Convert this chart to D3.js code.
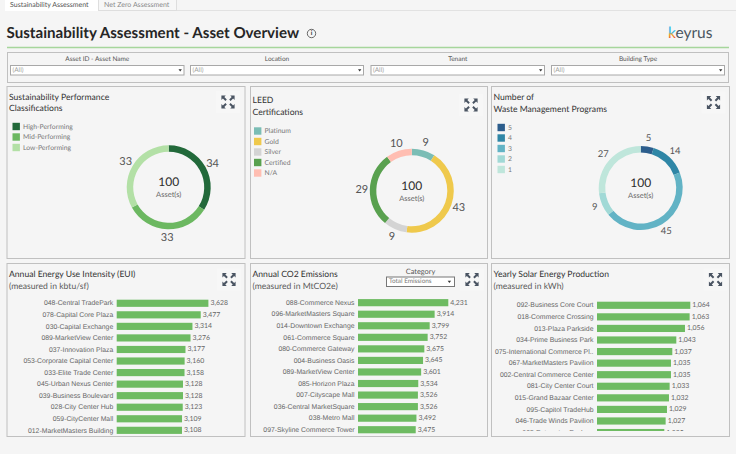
<!DOCTYPE html>
<html>
<head>
<meta charset="utf-8">
<script src="https://cdn.jsdelivr.net/npm/d3@7/dist/d3.min.js"></script>
<style>
  html, body { margin: 0; padding: 0; background: #f5f5f5; }
  svg { display: block; font-family: "Lato", sans-serif; text-rendering: geometricPrecision; }
</style>
</head>
<body>
<svg id="dash" width="736" height="454"></svg>
<script>
// ---- Data ----
const perfCategories = ["High-Performing", "Mid-Performing", "Low-Performing"];
const perfValues = [34, 33, 33];
const perfColors = ["#22693a", "#6cb861", "#b3e0a6"];

const leedCategories = ["Platinum", "Gold", "Silver", "Certified", "N/A"];
const leedValues = [9, 43, 9, 29, 10];
const leedColors = ["#7bbdb5", "#efc94c", "#d4d4d4", "#59a14f", "#ffbeb2"];

const wasteCategories = ["5", "4", "3", "2", "1"];
const wasteValues = [5, 14, 45, 9, 27];
const wasteColors = ["#2c5d8c", "#2f86a6", "#62b3c5", "#a1d9d6", "#bfe6db"];

const euiNames = ["048-Central TradePark", "078-Capital Core Plaza", "030-Capital Exchange", "089-MarketView Center", "037-Innovation Plaza", "053-Corporate Capital Center", "033-Elite Trade Center", "045-Urban Nexus Center", "039-Business Boulevard", "028-City Center Hub", "059-CityCenter Mall", "012-MarketMasters Building"];
const euiValues = [3628, 3477, 3314, 3276, 3177, 3160, 3158, 3128, 3128, 3123, 3109, 3108];

const co2Names = ["088-Commerce Nexus", "096-MarketMasters Square", "014-Downtown Exchange", "061-Commerce Square", "080-Commerce Gateway", "004-Business Oasis", "089-MarketView Center", "085-Horizon Plaza", "007-Cityscape Mall", "036-Central MarketSquare", "038-Metro Mall", "097-Skyline Commerce Tower"];
const co2Values = [4231, 3914, 3799, 3752, 3675, 3645, 3601, 3534, 3526, 3526, 3492, 3475];

const solarNames = ["092-Business Core Court", "018-Commerce Crossing", "013-Plaza Parkside", "034-Prime Business Park", "075-International Commerce Pl..", "067-MarketMasters Pavilion", "002-Central Commerce Center", "081-City Center Court", "015-Grand Bazaar Center", "095-Capitol TradeHub", "046-Trade Winds Pavilion", "025-Enterprise Enclave"];
const solarValues = [1064, 1063, 1056, 1043, 1037, 1035, 1035, 1033, 1032, 1029, 1027, 1025];

const filterLabels = ["Asset ID - Asset Name", "Location", "Tenant", "Building Type"];

// ---- Shared styles ----
const BAR = "#6ebb62", FRAME = "#c0c0c0";
const svg = d3.select("#dash");
const defs = svg.append("defs");

function text(g, x, y, str, size, fill, opts = {}) {
  return g.append("text").attr("x", x).attr("y", y).text(str)
    .attr("font-size", size).attr("fill", fill)
    .attr("text-anchor", opts.anchor || "start")
    .attr("font-weight", opts.weight || 400)
    .attr("dominant-baseline", "central");
}

// ---- Tab strip ----
const tabs = svg.append("g");
tabs.append("rect").attr("x", 5).attr("y", 0).attr("width", 93).attr("height", 11).attr("fill", "#ffffff");
tabs.append("rect").attr("x", 98.5).attr("y", -1).attr("width", 78).attr("height", 11.5).attr("fill", "#f7f7f7").attr("stroke", "#dedede");
tabs.append("line").attr("x1", 177).attr("x2", 736).attr("y1", 10.5).attr("y2", 10.5).attr("stroke", "#e2e2e2");
text(tabs, 10, 5, "Sustainability Assessment", 7, "#555555");
text(tabs, 104, 5, "Net Zero Assessment", 7, "#8a8a8a");

// ---- Header ----
const head = svg.append("g");
text(head, 6.5, 33, "Sustainability Assessment - Asset Overview", 15.15, "#262626", { weight: 700 });
head.append("circle").attr("cx", 311.5).attr("cy", 33.5).attr("r", 4.2).attr("fill", "none").attr("stroke", "#444").attr("stroke-width", 0.8);
text(head, 311.5, 33.5, "i", 6.5, "#333", { anchor: "middle", weight: 700 });
head.append("line").attr("x1", 7).attr("x2", 729).attr("y1", 47.5).attr("y2", 47.5).attr("stroke", "#a6d69c").attr("stroke-width", 1.4);

// Brand mark: the first letter carries a multi-colour gradient
const brand = defs.append("linearGradient").attr("id", "brandK").attr("x1", 0).attr("x2", 0).attr("y1", 0).attr("y2", 1);
brand.append("stop").attr("offset", "0.45").attr("stop-color", "#33b5e5");
brand.append("stop").attr("offset", "0.6").attr("stop-color", "#f6a01a");
brand.append("stop").attr("offset", "0.85").attr("stop-color", "#e8344a");
const logo = text(head, 668, 33, "", 15.5, "#4a5560");
logo.append("tspan").attr("fill", "url(#brandK)").text("k");
logo.append("tspan").text("eyrus");

// ---- Filter bar ----
const filterXs = [[10, 184.5], [190, 364], [370.5, 545], [551, 725]];
const filters = svg.append("g");
filters.append("rect").attr("x", 7.5).attr("y", 52.5).attr("width", 721).attr("height", 30).attr("fill", "none").attr("stroke", FRAME);
filterLabels.forEach((label, i) => {
  const [x0, x1] = filterXs[i];
  text(filters, (x0 + x1) / 2, 59.8, label, 6.5, "#555555", { anchor: "middle" });
  filters.append("rect").attr("x", x0 + 0.5).attr("y", 65.5).attr("width", x1 - x0 - 1).attr("height", 9.5).attr("fill", "#fff").attr("stroke", "#a8a8a8");
  text(filters, x0 + 2.5, 70.3, "(All)", 6.5, "#a0a0a0");
  filters.append("path").attr("d", `M${x1 - 6},69.2h3.4l-1.7,2.2z`).attr("fill", "#333");
});

// ---- Panel scaffolding ----
function expandIcon(g, cx, cy) {
  // Four corner arrows pointing outwards
  const s = g.append("g").attr("transform", `translate(${cx},${cy})`).attr("fill", "#4b5563");
  [[-1, -1], [1, -1], [-1, 1], [1, 1]].forEach(([sx, sy]) => {
    s.append("path").attr("transform", `scale(${sx},${sy})`)
      .attr("d", "M6.6,6.4 L2.2,6.4 L3.7,4.9 L1.2,2.4 L2.6,1 L5.1,3.5 L6.6,2 Z");
  });
}

function panel(x, y, w, h, title, iconX, iconY) {
  const g = svg.append("g");
  g.append("rect").attr("x", x + 0.5).attr("y", y + 0.5).attr("width", w).attr("height", h)
    .attr("fill", "#f5f5f5").attr("stroke", FRAME);
  g.append("rect").attr("x", iconX - 12).attr("y", iconY - 11).attr("width", 24).attr("height", 22).attr("fill", "#f7f7f7");
  title.forEach(line => {
    text(g, x + line.dx, y + line.dy, line.t, line.size || 8.6, line.c || "#333333", { weight: line.w || 400 });
  });
  expandIcon(g, iconX, iconY);
  return g;
}

// ---- Donut panels ----
function donut(g, cx, cy, cats, vals, colors, legendX, legendY, labelSize) {
  const pie = d3.pie().sort(null).value(d => d);
  const ring = d3.arc().innerRadius(35.5).outerRadius(42);
  const labelArc = d3.arc().innerRadius(50).outerRadius(50);
  const chart = g.append("g").attr("transform", `translate(${cx},${cy})`);
  const arcs = pie(vals);
  chart.selectAll("path").data(arcs).join("path").attr("d", ring).attr("fill", (d, i) => colors[i]);
  chart.selectAll("text.v").data(arcs).join("text").attr("class", "v")
    .attr("transform", d => `translate(${labelArc.centroid(d)})`)
    .attr("text-anchor", "middle").attr("dominant-baseline", "central")
    .attr("font-size", labelSize).attr("fill", "#555555").text(d => d.data);
  text(chart, 0, -5.5, d3.sum(vals), 12, "#2b2b2b", { anchor: "middle" });
  text(chart, 0, 7.5, "Asset(s)", 7.5, "#666666", { anchor: "middle" });

  const legend = g.append("g");
  cats.forEach((c, i) => {
    const y = legendY + i * 10.5;
    legend.append("rect").attr("x", legendX).attr("y", y - 3.7).attr("width", 7.4).attr("height", 7.4).attr("fill", colors[i]);
    text(legend, legendX + 10.5, y, c, 6.8, "#777777");
  });
}

const p1 = panel(6.5, 86, 238, 172, [
  { t: "Sustainability Performance", dx: 2.5, dy: 10.5 },
  { t: "Classifications", dx: 2.5, dy: 22 }
], 228, 102);
donut(p1, 168.7, 187.3, perfCategories, perfValues, perfColors, 12.5, 126.5, 11);

const p2 = panel(250, 86, 237, 172, [
  { t: "LEED", dx: 2.5, dy: 14 },
  { t: "Certifications", dx: 2.5, dy: 25.5 }
], 471, 105);
donut(p2, 411.8, 190.7, leedCategories, leedValues, leedColors, 254, 131, 11);

const p3 = panel(491, 86, 238, 172, [
  { t: "Number of", dx: 2.5, dy: 11 },
  { t: "Waste Management Programs", dx: 2.5, dy: 23 }
], 713.5, 102.5);
donut(p3, 640.7, 188, wasteCategories, wasteValues, wasteColors, 497.5, 127.5, 9.5);

// ---- Ranked bar panels ----
function bars(g, id, names, vals, opts) {
  // Rows share a band scale; the value axis is truncated as in the source workbook view
  const y = d3.scaleBand().domain(names)
    .range([opts.top, opts.top + opts.step * names.length]).paddingInner(0.38).paddingOuter(0.19);
  const x = d3.scaleLinear().domain(opts.domain).range([opts.left, opts.left + opts.span]);

  defs.append("clipPath").attr("id", id).append("rect")
    .attr("x", opts.clip[0]).attr("y", opts.clip[1]).attr("width", opts.clip[2]).attr("height", opts.clip[3]);
  const plot = g.append("g").attr("clip-path", `url(#${id})`);

  plot.selectAll("rect").data(vals).join("rect")
    .attr("x", x(opts.domain[0])).attr("y", (d, i) => y(names[i]))
    .attr("width", d => x(d) - x(opts.domain[0])).attr("height", y.bandwidth()).attr("fill", BAR);

  plot.selectAll("text.v").data(vals).join("text").attr("class", "v")
    .attr("x", d => x(d) + 2).attr("y", (d, i) => y(names[i]) + y.bandwidth() / 2)
    .attr("dominant-baseline", "central").attr("font-size", 6.9).attr("fill", "#666666")
    .text(d3.format(","));

  const axis = plot.append("g").attr("transform", `translate(${opts.left - 3.5},0)`)
    .call(d3.axisLeft(y).tickSize(0).tickPadding(0));
  axis.select(".domain").remove();
  axis.selectAll("text").attr("font-size", 6.85).attr("fill", "#666666").attr("font-family", "inherit");
}

const p4 = panel(6.5, 263, 238, 173, [
  { t: "Annual Energy Use Intensity (EUI)", dx: 2.5, dy: 11 },
  { t: "(measured in kbtu/sf)", dx: 2.5, dy: 23, c: "#5a5a5a" }
], 229, 279.5);
bars(p4, "clipEui", euiNames, euiValues, {
  left: 116.7, top: 297.5, step: 11.55, domain: [1823, 3628], span: 91.7, clip: [7, 290, 237, 145]
});

const p5 = panel(250, 263, 237, 173, [
  { t: "Annual CO2 Emissions", dx: 2.5, dy: 10.5 },
  { t: "(measured in MtCO2e)", dx: 2.5, dy: 22.5, c: "#5a5a5a" }
], 472, 279.5);
bars(p5, "clipCo2", co2Names, co2Values, {
  left: 358, top: 296.9, step: 11.55, domain: [2136, 4231], span: 90.3, clip: [251, 290, 235, 145]
});
// Category selector sitting in the CO2 panel header
text(p5, 420.5, 271.5, "Category", 7.4, "#555555", { anchor: "middle" });
p5.append("rect").attr("x", 386.5).attr("y", 277).attr("width", 68).attr("height", 9.5).attr("fill", "#fff").attr("stroke", "#777");
text(p5, 389, 281.9, "Total Emissions", 6.4, "#777777");
p5.append("path").attr("d", "M447.7,280.8h3.4l-1.7,2.2z").attr("fill", "#333");

const p6 = panel(491, 263, 238, 173, [
  { t: "Yearly Solar Energy Production", dx: 2.5, dy: 11 },
  { t: "(measured in kWh)", dx: 2.5, dy: 23, c: "#5a5a5a" }
], 715.5, 279.5);
bars(p6, "clipSolar", solarNames, solarValues, {
  left: 597, top: 299.5, step: 11.57, domain: [924, 1064], span: 93.3, clip: [492, 290, 236, 141]
});
</script>
</body>
</html>
